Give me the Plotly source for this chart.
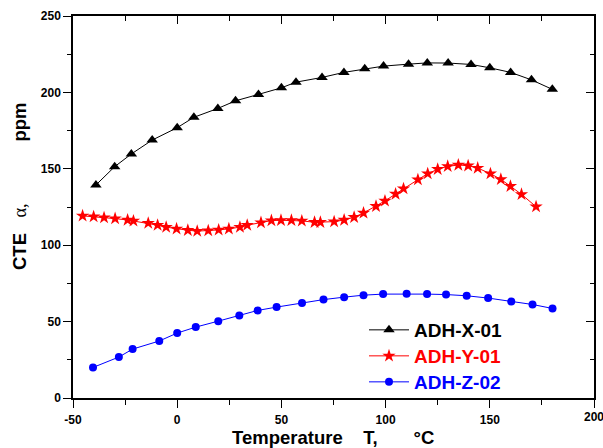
import plotly.graph_objects as go

# ADH-X-01 (triangles)
temp_x = [-39, -30, -22, -12, 0, 8, 19.5, 28, 39, 50, 57, 69.5, 80, 90, 99, 111, 120, 130, 141, 150, 160, 170, 180]
cte_x = [139.4, 151.4, 159.7, 168.8, 176.9, 183.7, 189.5, 194.5, 198.7, 203.0, 206.7, 209.8, 213.1, 215.4,
         217.2, 218.5, 219.3, 219.2, 218.3, 216.1, 213.1, 208.2, 202.0]

# ADH-Y-01 (stars)
temp_y = [-45.4, -40.1, -35.1, -29.8, -23.8, -21.0, -13.9, -9.4, -5.3, -0.3, 5.1, 9.6, 14.9, 19.9, 24.8,
          30.1, 33.6, 40.2, 45.2, 49.8, 54.8, 59.8, 65.9, 68.7, 75.3, 80.1, 84.9, 89.4, 95.4, 99.7,
          104.8, 108.6, 115.5, 120.2, 125.0, 129.8, 134.9, 139.6, 144.2, 150.3, 155.3, 159.9, 165.2, 172.2]
cte_y = [119.2, 118.7, 118.0, 117.4, 116.5, 115.9, 114.4, 113.1, 111.8, 110.7, 109.8, 109.2, 109.5, 110.0, 110.7,
         111.8, 113.1, 114.8, 116.1, 116.3, 116.3, 115.9, 115.0, 115.0, 115.4, 116.5, 118.3, 121.1, 125.5, 129.0,
         133.5, 137.0, 142.9, 146.8, 149.7, 151.6, 152.5, 152.0, 150.5, 146.8, 143.1, 138.6, 133.3, 125.2]

# ADH-Z-02 (circles)
temp_z = [-40.4, -28.0, -21.4, -8.6, 0, 8.9, 19.7, 29.8, 38.6, 47.7, 59.9, 70.2, 80.1, 89.4, 98.8,
          110.1, 119.9, 129.0, 138.9, 149.2, 160.3, 170.5, 180.1]
cte_z = [20.0, 26.8, 32.0, 37.3, 42.5, 46.4, 50.3, 54.0, 57.3, 59.5, 62.1, 64.4, 66.0, 67.3, 68.0,
         68.2, 68.0, 67.7, 66.9, 65.4, 63.1, 61.2, 58.6]

x_ticks = [-50, 0, 50, 100, 150, 200]
y_ticks = [0, 50, 100, 150, 200, 250]
x_minor = [-25, 25, 75, 125, 175]
y_minor = [25, 75, 125, 175, 225]

FONT = "Liberation Sans, Arial, sans-serif"
W, H = 603, 448
ML, MR, MT, MB = 73, 9, 16, 50
PW, PH = W - ML - MR, H - MT - MB


def px_x(p):
    return (p - ML) / PW


def px_y(p):
    return (H - MB - p) / PH


fig = go.Figure()

series = [
    (temp_x, cte_x, "ADH-X-01", "#000000", "triangle-up", 10, "legend", 330),
    (temp_y, cte_y, "ADH-Y-01", "#ff0000", "star", 10, "legend2", 356),
    (temp_z, cte_z, "ADH-Z-02", "#0000ff", "circle", 8, "legend3", 382),
]
legends = {}
for xs, ys, name, color, sym, size, leg, row_y in series:
    fig.add_trace(go.Scatter(
        x=xs, y=ys, mode="lines+markers",
        name=f'<span style="color:{color}">{name}</span>',
        line=dict(color=color, width=1),
        marker=dict(symbol=sym, size=size, color=color, line=dict(width=0)),
        legend=leg,
    ))
    legends[leg] = dict(x=px_x(364), y=px_y(row_y), xanchor="left", yanchor="middle",
                        bgcolor="rgba(0,0,0,0)",
                        font=dict(family=FONT, size=19, color="black", weight="bold"),
                        itemwidth=40)

axis_common = dict(
    showgrid=False, zeroline=False, automargin=False,
    showline=True, linecolor="black", linewidth=1.5, mirror=True,
    ticks="outside", ticklen=8, tickwidth=1.3, tickcolor="black",
    tickfont=dict(family=FONT, size=12, color="black", weight="bold"),
)

# the last x label sits on the frame edge and runs off the page, so it is
# written as an annotation instead of a tick label
x_ticktext = [str(v) for v in x_ticks[:-1]] + [""]

fig.update_layout(
    width=W, height=H,
    margin=dict(l=ML, r=MR, t=MT, b=MB, autoexpand=False),
    paper_bgcolor="white", plot_bgcolor="white",
    xaxis=dict(range=[-50, 200], tickmode="array", tickvals=x_ticks,
               ticktext=x_ticktext, ticklabelstandoff=2,
               minor=dict(ticks="outside", ticklen=5, tickwidth=1.3, tickcolor="black",
                          tickmode="array", tickvals=x_minor),
               **axis_common),
    yaxis=dict(range=[0, 250], tickmode="array", tickvals=y_ticks,
               ticktext=[str(v) for v in y_ticks],
               minor=dict(ticks="outside", ticklen=4, tickwidth=1.3, tickcolor="black",
                          tickmode="array", tickvals=y_minor),
               **axis_common),
    # inward ticks on the top and right frame edges
    xaxis2=dict(overlaying="x", side="top", anchor="y", range=[-50, 200], automargin=False,
                showgrid=False, zeroline=False, showline=False, showticklabels=False,
                ticks="inside", ticklen=8, tickwidth=1.3, tickcolor="black",
                tickmode="array", tickvals=x_ticks,
                minor=dict(ticks="inside", ticklen=5, tickwidth=1.3, tickcolor="black",
                           tickmode="array", tickvals=x_minor)),
    yaxis2=dict(overlaying="y", side="right", anchor="x", range=[0, 250], automargin=False,
                showgrid=False, zeroline=False, showline=False, showticklabels=False,
                ticks="inside", ticklen=8, tickwidth=1.3, tickcolor="black",
                tickmode="array", tickvals=y_ticks,
                minor=dict(ticks="inside", ticklen=4, tickwidth=1.3, tickcolor="black",
                           tickmode="array", tickvals=y_minor)),
    showlegend=True,
    **legends,
)

# invisible helper trace so the mirrored axes are laid out
fig.add_trace(go.Scatter(x=[None], y=[None], xaxis="x2", yaxis="y2",
                         showlegend=False, hoverinfo="skip"))

fig.add_annotation(
    xref="x", yref="paper", x=x_ticks[-1], y=px_y(417),
    xanchor="center", yanchor="middle", showarrow=False,
    text=str(x_ticks[-1]),
    font=dict(family=FONT, size=12, color="black", weight="bold"),
)

nb = "\u00a0"
fig.add_annotation(
    xref="paper", yref="paper",
    x=px_x(332.6), y=px_y(438),
    xanchor="center", yanchor="middle", showarrow=False,
    text=f"<b>Temperature{nb*4}T,{nb*7}°C</b>",
    font=dict(family=FONT, size=18.5, color="black"),
)
fig.add_annotation(
    xref="paper", yref="paper",
    x=px_x(19), y=px_y(186),
    xanchor="center", yanchor="middle", showarrow=False, textangle=-90,
    text=(f"<b>CTE</b>{nb*3}"
          f"<span style='font-family:Liberation Serif'>α,</span>{nb*12}<b>ppm</b>"),
    font=dict(family=FONT, size=18.5, color="black"),
)

fig.write_html("out.html")
